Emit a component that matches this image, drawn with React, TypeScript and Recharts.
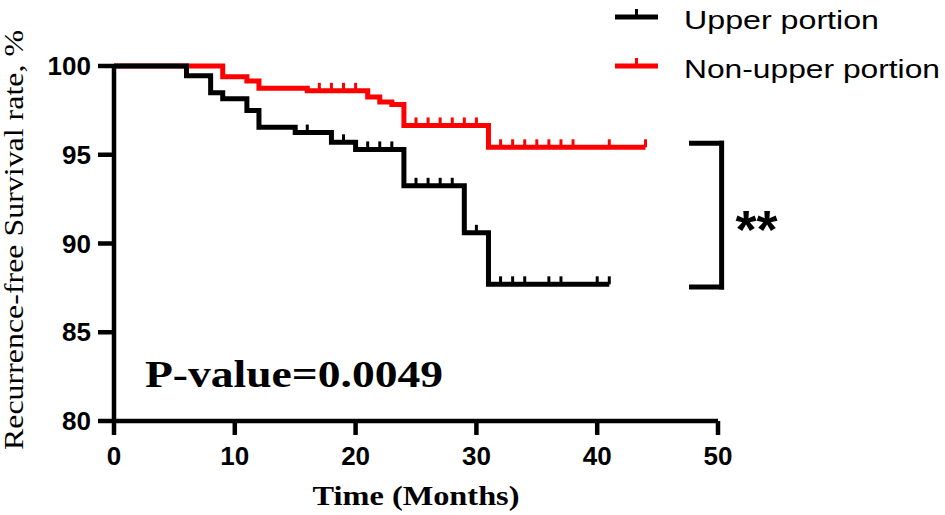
import {
  ComposedChart,
  Line,
  Scatter,
  XAxis,
  YAxis,
  ReferenceLine,
  ReferenceDot,
} from "recharts";

// Kaplan-Meier steps (months, survival %)
const UPPER_TIMES = [0, 6, 8, 9, 11, 12, 15, 18, 20, 24, 29, 31, 41];
const UPPER_SURV = [100, 99.45, 98.5, 98.15, 97.5, 96.55, 96.25, 95.7, 95.3, 93.25, 90.6, 87.7, 87.7];
const UPPER_CENSORED = [16, 19, 21, 22, 23, 25, 26, 27, 28, 30, 32, 33, 34, 36, 37, 40, 41];

const NONUPPER_TIMES = [0, 9, 11, 12, 16, 21, 22, 23, 24, 31, 44];
const NONUPPER_SURV = [100, 99.4, 99.15, 98.75, 98.6, 98.25, 97.97, 97.83, 96.65, 95.42, 95.42];
const NONUPPER_CENSORED = [17, 18, 19, 20, 25, 26, 27, 28, 29, 30, 32, 33, 34, 35, 36, 37, 38, 41, 44];

const X_TICKS = [0, 10, 20, 30, 40, 50];
const Y_TICKS = [80, 85, 90, 95, 100];
const BRACKET = [87.55, 95.65];

const RED = "#ff0000";
const SANS = "'Liberation Sans', Arial, sans-serif";
const SERIF = "'Liberation Serif', 'Times New Roman', serif";

const toSteps = (times: number[], surv: number[]) =>
  times.map((t, i) => ({ t, s: surv[i] }));

const survivalAt = (times: number[], surv: number[], t: number) => {
  let idx = 0;
  times.forEach((tt, i) => {
    if (tt <= t) idx = i;
  });
  return surv[idx];
};

const toCensor = (censored: number[], times: number[], surv: number[]) =>
  censored.map((t) => ({ t, s: survivalAt(times, surv, t) }));

const upperData = toSteps(UPPER_TIMES, UPPER_SURV);
const nonUpperData = toSteps(NONUPPER_TIMES, NONUPPER_SURV);
const upperCensor = toCensor(UPPER_CENSORED, UPPER_TIMES, UPPER_SURV);
const nonUpperCensor = toCensor(NONUPPER_CENSORED, NONUPPER_TIMES, NONUPPER_SURV);

const censorTick = (color: string) => (props: any) => {
  const { cx, cy } = props;
  return (
    <line x1={cx} x2={cx} y1={cy - 8} y2={cy} stroke={color} strokeWidth={3} />
  );
};

const Stars = (props: any) => {
  const { cx, cy } = props;
  return (
    <text
      x={cx + 14}
      y={cy + 33}
      fontFamily={SANS}
      fontWeight="bold"
      fontSize={54}
      fill="#000"
    >
      **
    </text>
  );
};

const legendItems = [
  { name: "Upper portion", color: "#000", y: 17, width: 195 },
  { name: "Non-upper portion", color: RED, y: 66, width: 256 },
];

const axisStroke = { stroke: "#000", strokeWidth: 4.5 };
const tickStyle = {
  fill: "#000",
  fontSize: 26,
  fontWeight: "bold",
  fontFamily: SANS,
};

export default function App() {
  return (
    <div
      style={{
        position: "fixed",
        left: 0,
        top: 0,
        width: 945,
        height: 515,
        background: "#fff",
      }}
    >
      <ComposedChart
        width={945}
        height={515}
        margin={{ top: 66, right: 227, bottom: 0, left: 0 }}
      >
        <XAxis
          type="number"
          dataKey="t"
          domain={[0, 50]}
          ticks={X_TICKS}
          height={94}
          axisLine={axisStroke}
          tickLine={axisStroke}
          tickSize={14}
          tickMargin={12}
          tick={tickStyle}
        />
        <YAxis
          type="number"
          dataKey="s"
          domain={[80, 100]}
          ticks={Y_TICKS}
          width={114}
          axisLine={axisStroke}
          tickLine={axisStroke}
          tickSize={16}
          tickMargin={7}
          tick={tickStyle}
        />
        <Line
          data={nonUpperData}
          dataKey="s"
          type="stepAfter"
          stroke={RED}
          strokeWidth={5}
          dot={false}
          activeDot={false}
          isAnimationActive={false}
        />
        <Scatter
          data={nonUpperCensor}
          dataKey="s"
          shape={censorTick(RED)}
          legendType="none"
          isAnimationActive={false}
        />
        <Line
          data={upperData}
          dataKey="s"
          type="stepAfter"
          stroke="#000"
          strokeWidth={5}
          dot={false}
          activeDot={false}
          isAnimationActive={false}
        />
        <Scatter
          data={upperCensor}
          dataKey="s"
          shape={censorTick("#000")}
          legendType="none"
          isAnimationActive={false}
        />
        <ReferenceLine
          segment={[
            { x: 47.6, y: BRACKET[1] },
            { x: 50.5, y: BRACKET[1] },
          ]}
          stroke="#000"
          strokeWidth={5}
          ifOverflow="visible"
        />
        <ReferenceLine
          segment={[
            { x: 50.3, y: BRACKET[1] + 0.14 },
            { x: 50.3, y: BRACKET[0] - 0.14 },
          ]}
          stroke="#000"
          strokeWidth={5}
          ifOverflow="visible"
        />
        <ReferenceLine
          segment={[
            { x: 47.6, y: BRACKET[0] },
            { x: 50.5, y: BRACKET[0] },
          ]}
          stroke="#000"
          strokeWidth={5}
          ifOverflow="visible"
        />
        <ReferenceDot
          x={50.3}
          y={(BRACKET[0] + BRACKET[1]) / 2}
          r={1}
          ifOverflow="visible"
          shape={Stars}
        />
      </ComposedChart>
      <svg
        width={945}
        height={515}
        style={{ position: "absolute", left: 0, top: 0, pointerEvents: "none" }}
      >
        {legendItems.map((item) => (
          <g key={item.name}>
            <line
              x1={615}
              x2={658}
              y1={item.y}
              y2={item.y}
              stroke={item.color}
              strokeWidth={5}
            />
            <line
              x1={636.5}
              x2={636.5}
              y1={item.y - 8}
              y2={item.y}
              stroke={item.color}
              strokeWidth={3}
            />
            <text
              x={684}
              y={item.y + 11.5}
              fontFamily={SANS}
              fontSize={26}
              fill="#000"
              textLength={item.width}
              lengthAdjust="spacingAndGlyphs"
            >
              {item.name}
            </text>
          </g>
        ))}
        <text
          x={145}
          y={387}
          fontFamily={SERIF}
          fontWeight="bold"
          fontSize={38}
          fill="#000"
          textLength={298}
          lengthAdjust="spacingAndGlyphs"
        >
          P-value=0.0049
        </text>
        <text
          x={416}
          y={505}
          textAnchor="middle"
          fontFamily={SERIF}
          fontWeight="bold"
          fontSize={28}
          fill="#000"
          textLength={207}
          lengthAdjust="spacingAndGlyphs"
        >
          Time (Months)
        </text>
        <text
          x={23}
          y={240}
          transform="rotate(-90 23 240)"
          textAnchor="middle"
          fontFamily={SERIF}
          fontSize={27}
          fill="#000"
          textLength={420}
          lengthAdjust="spacingAndGlyphs"
        >
          Recurrence-free Survival rate, %
        </text>
      </svg>
    </div>
  );
}
